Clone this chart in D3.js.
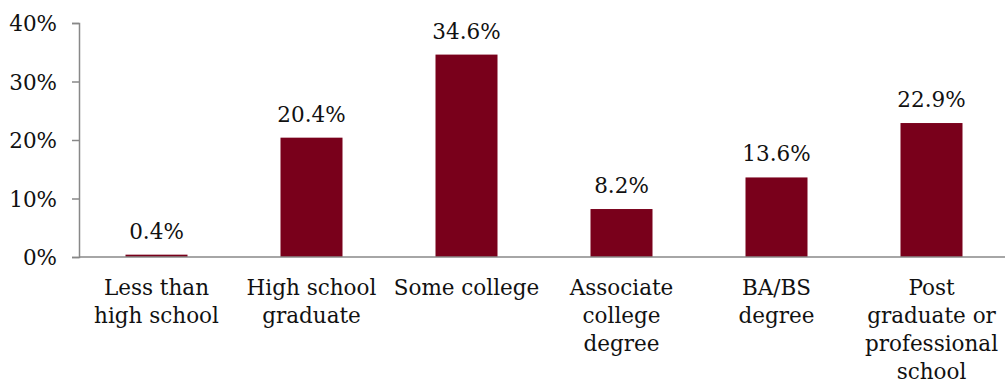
<!DOCTYPE html>
<html><head><meta charset="utf-8">
<script src="https://cdn.jsdelivr.net/npm/d3@7"></script>
<style>body{margin:0;background:#fff}svg{display:block}text{font-family:"DejaVu Serif",serif;fill:#111}</style>
</head><body>
<svg id="c" width="1005" height="383"></svg>
<script>
const categories = ["Less than\nhigh school","High school\ngraduate","Some college","Associate\ncollege\ndegree","BA/BS\ndegree","Post\ngraduate or\nprofessional\nschool"];
const values = [0.4,20.4,34.6,8.2,13.6,22.9];
const yTicks = [0,10,20,30,40];

const svg = d3.select("#c");
const x0 = 79, y0 = 257, yTop = 23;
const x = d3.scaleBand().domain(d3.range(categories.length)).range([x0, x0 + 155*6]).padding(0);
const y = d3.scaleLinear().domain([0,40]).range([y0, yTop]);
const fs = 21.5;

// bars
const bw = x.bandwidth()*0.4;
svg.selectAll("rect.bar").data(values).enter().append("rect")
  .attr("x",(d,i)=>x(i)+x.bandwidth()/2-bw/2).attr("width",bw)
  .attr("y",d=>y(d)).attr("height",d=>y0-y(d)).attr("fill","#79001b");

// axes
const gy = svg.append("g").attr("transform",`translate(${x0},0)`)
  .call(d3.axisLeft(y).tickValues(yTicks).tickSize(7).tickFormat(d=>d+"%"));
gy.select(".domain").attr("stroke","#888").attr("stroke-width",1.5);
gy.selectAll(".tick line").attr("stroke","#888").attr("stroke-width",1.5);
gy.selectAll(".tick text").attr("font-size",fs).attr("font-family","DejaVu Serif").attr("fill","#111").attr("x",-22).attr("dy","0.35em");

svg.append("line").attr("x1",x0).attr("x2",1005).attr("y1",y0).attr("y2",y0).attr("stroke","#888").attr("stroke-width",1.5);

// value labels
svg.selectAll("text.val").data(values).enter().append("text")
  .attr("x",(d,i)=>x(i)+x.bandwidth()/2).attr("y",d=>y(d)-16)
  .attr("text-anchor","middle").attr("font-size",fs).text(d=>d.toFixed(1)+"%");

// category labels
categories.forEach((c,i)=>{
  const t = svg.append("text").attr("text-anchor","middle").attr("font-size",fs)
    .attr("x",x(i)+x.bandwidth()/2).attr("y",295);
  c.split("\n").forEach((l,j)=>t.append("tspan").attr("x",x(i)+x.bandwidth()/2).attr("dy",j?28:0).text(l));
});
</script>
</body></html>
